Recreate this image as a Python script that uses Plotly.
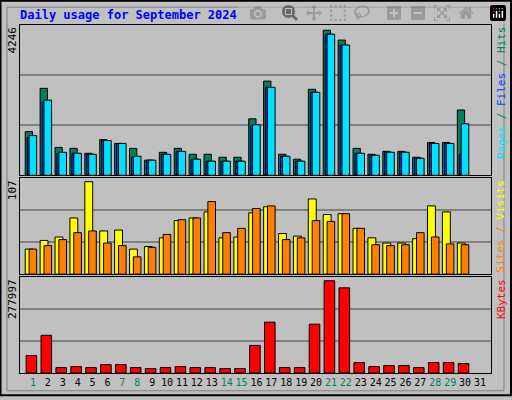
import plotly.graph_objects as go
from plotly.subplots import make_subplots

days = list(range(1, 32))
hits_y = [397,265,445,448,463,421,433,448,484,460,448,466,466,475,475,358,243,466,481,268,88,118,448,466,457,457,475,430,430,331]
files_y = [415,307,463,463,466,424,433,475,484,466,457,481,487,487,487,379,262,472,487,277,100,133,463,469,460,460,478,433,433,466]
pages_y = [409,301,460,463,466,424,433,472,484,466,457,481,487,487,487,376,262,472,487,277,100,133,463,469,460,460,478,433,433,373]
visits_y = [229,205,193,136,28,175,172,229,223,196,145,136,118,196,193,121,103,184,190,79,127,124,169,196,211,211,199,100,118,211]
sites_y = [229,220,202,181,175,211,220,253,226,187,142,136,88,181,169,109,100,202,196,145,148,124,169,217,220,217,181,193,214,217]
kb_y = [550,490,586,583,586,577,577,586,589,586,583,586,586,589,589,520,451,586,586,457,328,349,571,583,580,580,586,571,571,574]

hits = [round((530 - v) * 4246 / 455) for v in hits_y]
files = [round((530 - v) * 4246 / 455) for v in files_y]
pages = [round((530 - v) * 4246 / 455) for v in pages_y]
visits = [round((305 - v) * 107 / 277) for v in visits_y]
sites = [round((305 - v) * 107 / 277) for v in sites_y]
kbytes = [round((602 - v) * 277997 / 274) for v in kb_y]
weekend = {1, 7, 8, 14, 15, 21, 22, 28, 29}
tick_text = [f'<span style="color:{"#00805C" if d in weekend else "#000000"}">{d}</span>' for d in days]

x = days[:30]
fig = make_subplots(rows=3, cols=1, shared_xaxes=False, vertical_spacing=0)
ln = dict(color="black", width=1)
fig.add_trace(go.Bar(x=x, y=hits, offset=-0.52, width=0.49, marker=dict(color="#00805C", line=ln)), 1, 1)
fig.add_trace(go.Bar(x=x, y=files, offset=-0.39, width=0.5, marker=dict(color="#0040FF", line=ln)), 1, 1)
fig.add_trace(go.Bar(x=x, y=pages, offset=-0.26, width=0.51, marker=dict(color="#00E0FF", line=ln)), 1, 1)
fig.add_trace(go.Bar(x=x, y=visits, offset=-0.52, width=0.53, marker=dict(color="#FFFF00", line=ln)), 2, 1)
fig.add_trace(go.Bar(x=x, y=sites, offset=-0.26, width=0.51, marker=dict(color="#FF8000", line=ln)), 2, 1)
fig.add_trace(go.Bar(x=x, y=kbytes, offset=-0.46, width=0.71, marker=dict(color="#FF0000", line=ln)), 3, 1)

H = 352.0
doms = [((377 - 177) / H, 1.0), ((377 - 277) / H, (377 - 180) / H), (0.0, (377 - 280) / H)]
ranges = [4246 * 455 / 452, 111, 289000]
for i in range(3):
    R = ranges[i]
    fig.update_yaxes(row=i + 1, col=1, domain=list(doms[i]), range=[0, R], tickvals=[R / 3, 2 * R / 3],
                     showticklabels=False, showgrid=True, gridcolor="#808080", gridwidth=1.5,
                     zeroline=False, showline=True, linecolor="black", mirror=True, ticks="")
    fig.update_xaxes(row=i + 1, col=1, range=[0.13, 31.74], showgrid=False, zeroline=False,
                     showline=True, linecolor="black", mirror=True, ticks="",
                     tickvals=days, ticktext=tick_text, showticklabels=(i == 2), tickangle=0,
                     tickfont=dict(family="DejaVu Sans Mono", size=10))

mono = "DejaVu Sans Mono"
ann = [
    dict(x=0, y=1, xref="paper", yref="paper", text="4246", textangle=-90, xanchor="center", yanchor="top", xshift=-8),
    dict(x=0, y=doms[1][1], xref="paper", yref="paper", text="107", textangle=-90, xanchor="center", yanchor="top", xshift=-8),
    dict(x=0, y=doms[2][1], xref="paper", yref="paper", text="277997", textangle=-90, xanchor="center", yanchor="top", xshift=-8),
    dict(x=1, y=1, xref="paper", yref="paper", xanchor="center", yanchor="top", textangle=-90, xshift=10,
         text='<span style="color:#00E0FF">Pages</span><span style="color:#00805C"> / </span><span style="color:#0040FF">Files</span><span style="color:#00805C"> / Hits</span>'),
    dict(x=1, y=doms[1][1], xref="paper", yref="paper", xanchor="center", yanchor="top", textangle=-90, xshift=10,
         text='<span style="color:#FF8000">Sites</span><span style="color:#FF8000"> / </span><span style="color:#FFFF00">Visits</span>'),
    dict(x=1, y=doms[2][1], xref="paper", yref="paper", xanchor="center", yanchor="top", textangle=-90, xshift=10,
         text='<span style="color:#FF0000">KBytes</span>'),
]
for a in ann:
    a.update(showarrow=False, font=dict(family=mono, size=11, color="black"))

fig.update_layout(
    width=512, height=400, margin=dict(l=20, r=21, t=25, b=23),
    paper_bgcolor="#C0C0C0", plot_bgcolor="#C0C0C0", showlegend=False, barmode="overlay",
    title=dict(text="<b>Daily usage for September 2024</b>", x=20 / 512, xanchor="left", y=1 - 15 / 400, yanchor="middle",
               font=dict(family=mono, size=12, color="#0000FF")),
    annotations=ann,
    shapes=[
        dict(type="rect", xref="paper", yref="paper", x0=-19.5 / 471, x1=1 + 20 / 471, y0=-22.5 / 352, y1=1 + 24.5 / 352,
             line=dict(color="black", width=2), layer="above"),
        dict(type="rect", xref="paper", yref="paper", x0=-13 / 471, x1=1 + 13 / 471, y0=-18 / 352, y1=1 + 18 / 352,
             line=dict(color="#808080", width=1), layer="below"),
    ],
)
fig.write_html("out.html", post_script="document.body.style.margin='0';document.body.style.overflow='hidden';")
